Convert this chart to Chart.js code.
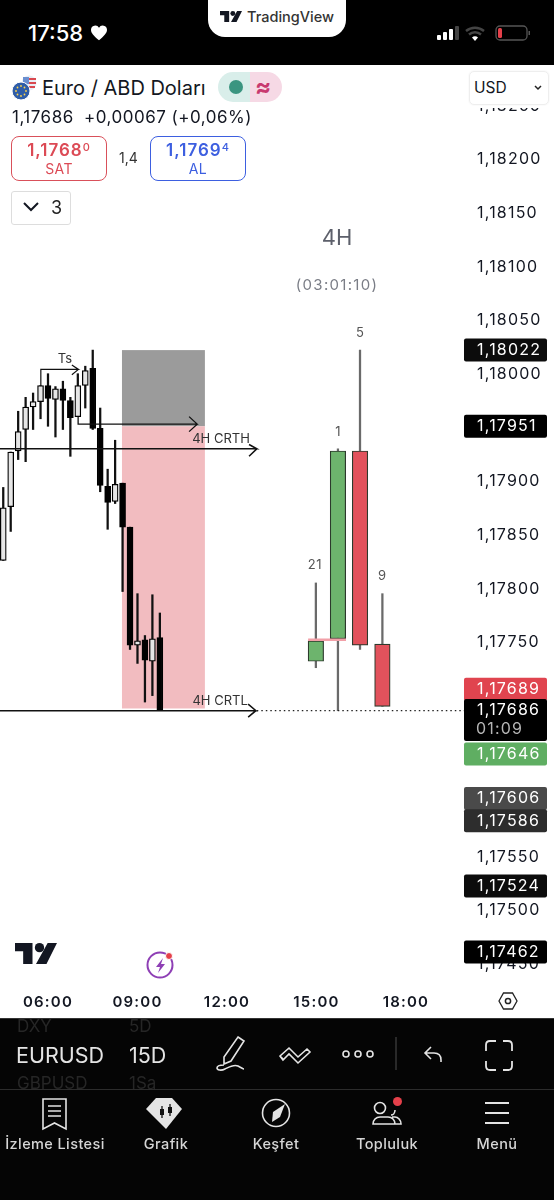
<!DOCTYPE html>
<html>
<head>
<meta charset="utf-8">
<script src="https://cdn.jsdelivr.net/npm/chart.js@4"></script>
<style>
html,body{margin:0;padding:0;background:#000;width:554px;height:1200px;overflow:hidden;font-family:Inter,sans-serif}
.abs{position:absolute;white-space:nowrap}
#panel{left:0;top:65px;width:554px;height:953px;background:#fff}
#cv{position:absolute;left:0;top:65px}
#headbg{left:0;top:65px;width:554px;height:43px;background:#fff}
.btn{box-sizing:border-box;text-align:center;border-radius:8px;border:1.5px solid;background:#fff}
.btn b{display:block;font-size:17px;font-weight:600;line-height:20px;margin-top:3px;letter-spacing:1px}
.btn b sup{font-size:11px;line-height:0;vertical-align:5px;font-weight:500}
.btn span{display:block;font-size:14px;line-height:17px;letter-spacing:.4px}
.nav{top:1135px;color:#d6d6d6;font-size:14.5px;font-weight:500;letter-spacing:.4px;transform:translateX(-50%)}
</style>
</head>
<body>
<div class="abs" id="panel"></div>
<canvas id="cv" width="554" height="953"></canvas>
<div class="abs" id="headbg"></div>

<div class="abs" style="left:28px;top:20px;color:#fff;font-size:22px;font-weight:500">17:58</div>
<svg class="abs" style="left:91px;top:25px" width="16" height="16" viewBox="0 0 24 24"><path fill="#fff" d="M12 23C4 16 0 12 0 7a6.500 6.500 0 0 1 12-3 6.500 6.500 0 0 1 12 3c0 5-4 9-12 16z"/></svg>
<div class="abs" style="left:208px;top:-2px;width:138px;height:39px;background:#fff;border-radius:0 0 17px 17px"></div>
<svg class="abs" style="left:220px;top:11px" width="22" height="11" viewBox="0 0 36 18"><path fill="#131722" d="M0 0h15v18H7V7H0zM28 0h8l-9 18h-9z"/><circle cx="21" cy="4" r="4" fill="#131722"/></svg>
<div class="abs" style="left:247px;top:8px;color:#333;font-size:14.500px;font-weight:500">TradingView</div>
<svg class="abs" style="left:436px;top:24px" width="100" height="20" viewBox="0 0 100 20">
<rect x="1" y="11" width="4" height="5" rx="1" fill="#fff"/><rect x="7" y="8" width="4" height="8" rx="1" fill="#fff"/><rect x="13" y="5" width="4" height="11" rx="1" fill="#fff"/><rect x="19" y="2" width="4" height="14" rx="1" fill="#444"/>
<path d="M30 7a14 14 0 0 1 18 0M33 10.500a9 9 0 0 1 12 0" stroke="#444" stroke-width="2.400" fill="none"/><path d="M36 13.500a4 4 0 0 1 6 0L39 17z" fill="#fff"/>
<rect x="60" y="2" width="31" height="14" rx="4" stroke="#555" fill="none" stroke-width="1.300"/><rect x="62" y="4" width="4" height="10" rx="1.500" fill="#e5404a"/><rect x="92.500" y="7" width="1.500" height="4" fill="#555"/>
</svg>

<svg class="abs" style="left:11px;top:74px" width="26" height="27" viewBox="0 0 26 27">
<circle cx="18" cy="9" r="7.500" fill="#e8eef5"/><path d="M13 4h12v2H13zM11 8h14v2H11zM13 12h11v2H13z" fill="#d9484f"/><path d="M12 3h6v7h-6z" fill="#6a8fd0"/>
<circle cx="10" cy="17" r="9" fill="#2f5da8" stroke="#fff"/><circle cx="10" cy="12" r=".900" fill="#ffd54a"/><circle cx="10" cy="22" r=".900" fill="#ffd54a"/><circle cx="5" cy="17" r=".900" fill="#ffd54a"/><circle cx="15" cy="17" r=".900" fill="#ffd54a"/><circle cx="6.500" cy="13.500" r=".900" fill="#ffd54a"/><circle cx="13.500" cy="20.500" r=".900" fill="#ffd54a"/><circle cx="13.500" cy="13.500" r=".900" fill="#ffd54a"/><circle cx="6.500" cy="20.500" r=".900" fill="#ffd54a"/></svg>
<div class="abs" style="left:42px;top:74px;color:#131722;font-size:20px;line-height:28px">Euro / ABD Doları</div>
<div class="abs" style="left:218px;top:72px;width:32px;height:30px;background:#d9eeea;border-radius:15px 0 0 15px"></div>
<div class="abs" style="left:250px;top:72px;width:32px;height:30px;background:#f6d9e5;border-radius:0 15px 15px 0"></div>
<div class="abs" style="left:229px;top:80px;width:14px;height:14px;border-radius:50%;background:#3a9580"></div>
<div class="abs" style="left:255px;top:71px;color:#c8396f;font-size:24px;font-weight:700;line-height:32px">≈</div>
<div class="abs" style="left:469px;top:71px;width:78px;height:32px;border:1px solid #eee;border-radius:5px;box-shadow:0 0 2px #eee"></div>
<div class="abs" style="left:474px;top:78px;color:#131722;font-size:15.500px">USD</div>
<svg class="abs" style="left:533px;top:84px" width="10" height="8"><path d="M2 2l3 3 3-3" stroke="#222" stroke-width="1.500" fill="none"/></svg>
<div class="abs" style="left:12px;top:106px;color:#131722;font-size:17px;line-height:22px;letter-spacing:.5px">1,17686 <span style="margin-left:5px">+0,00067 (+0,06%)</span></div>
<div class="abs btn" style="left:11px;top:136px;width:96px;height:45px;border-color:#d9505a;color:#dc4a55"><b>1,1768<sup>0</sup></b><span>SAT</span></div>
<div class="abs" style="left:119px;top:149px;color:#333;font-size:14px">1,4</div>
<div class="abs btn" style="left:150px;top:136px;width:96px;height:45px;border-color:#3d5fe0;color:#3d5fe0"><b>1,1769<sup>4</sup></b><span>AL</span></div>
<div class="abs" style="left:11px;top:191px;width:58px;height:32px;border:1px solid #ddd;border-radius:3px;background:#fff"></div>
<svg class="abs" style="left:22px;top:200px" width="20" height="14"><path d="M2 3l7 7 7-7" stroke="#131722" stroke-width="2" fill="none"/></svg>
<div class="abs" style="left:51px;top:197px;color:#222;font-size:18px">3</div>

<svg class="abs" style="left:15px;top:943px" width="42" height="21" viewBox="0 0 36 18"><path fill="#131722" d="M0 0h15v18H7V7H0zM28 0h8l-9 18h-9z"/><circle cx="21" cy="4" r="4" fill="#131722"/></svg>
<svg class="abs" style="left:145px;top:950px" width="32" height="32" viewBox="0 0 32 32"><circle cx="15" cy="15" r="12.500" stroke="#8e3fb5" stroke-width="2" fill="#fff"/><path d="M18 8l-7 9h4l-2 6 7-9h-4z" fill="#8e3fb5"/><circle cx="24" cy="6" r="3.500" fill="#e5404a" stroke="#fff"/></svg>
<svg class="abs" style="left:498px;top:991px" width="20" height="20" viewBox="0 0 20 20"><path d="M1 10l4.500-8h9L19 10l-4.500 8h-9z" fill="none" stroke="#222" stroke-width="1.300"/><circle cx="10" cy="10" r="2.600" fill="none" stroke="#222" stroke-width="1.500"/></svg>

<div class="abs" style="left:0;top:1018px;width:554px;height:182px;background:#050505;border-top:1px solid #333;box-sizing:border-box"></div>
<div class="abs" style="left:17px;top:1016px;color:#262626;font-size:17px">DXY</div>
<div class="abs" style="left:129px;top:1016px;color:#262626;font-size:17px">5D</div>
<div class="abs" style="left:16px;top:1042px;color:#e4e4e4;font-size:21.500px;width:89px;overflow:hidden">EURUSD</div>
<div class="abs" style="left:129px;top:1042px;color:#e4e4e4;font-size:21.500px">15D</div>
<div class="abs" style="left:17px;top:1073px;color:#262626;font-size:17px">GBPUSD</div>
<div class="abs" style="left:129px;top:1073px;color:#262626;font-size:17px">1Sa</div>
<svg class="abs" style="left:200px;top:1035px" width="320" height="42" viewBox="0 0 320 42" fill="none" stroke="#e4e4e4" stroke-width="1.600">
<path d="M38 2l6 4-13 20-7 3 0-7zM24 30c-4 0-7 1-7 3s4 3 8 1 9-5 13-3 5 3 6 3"/>
<path d="M80 21l9-8 9 9 9-8 3 3-12 11-9-9-6 6zM80 21l3 3"/>
<circle cx="146" cy="19" r="3"/><circle cx="158" cy="19" r="3"/><circle cx="170" cy="19" r="3"/>
<path d="M196 2v33" stroke="#333"/>
<path d="M241 27v-2c0-5-3-7-7-7h-9M231 12l-6 6 6 6"/>
<path d="M286 16v-6q0-4 4-4h6M303 6h5q4 0 4 4v6M312 26v5q0 4-4 4h-5M296 35h-6q-4 0-4-4v-5" stroke-width="1.800"/>
</svg>
<div class="abs" style="left:0;top:1089px;width:554px;height:1px;background:#2c2c2c"></div>
<svg class="abs" style="left:0;top:1096px" width="554" height="36" viewBox="0 0 554 36" fill="none" stroke="#e4e4e4" stroke-width="1.600">
<path d="M43 3h23v30l-11.500-6L43 33zM48 10h13M48 15h13M48 20h13"/>
<path d="M156 2h16l10 11-16 20-20-20z" fill="#e4e4e4" stroke="none"/><path d="M162 10v12M170 8v12" stroke="#111" stroke-width="1.300"/><rect x="160" y="13" width="4" height="6" fill="#111" stroke="none"/><rect x="168" y="11" width="4" height="6" fill="#111" stroke="none"/>
<circle cx="276" cy="17" r="13.500"/><path d="M285 8l-5 13-8 5 1-10z" fill="#e4e4e4" stroke="none"/>
<circle cx="380" cy="12" r="5.500"/><path d="M373 28c0-4 3-7 7-7h8c4 0 7 3 7 7H373zM395 14c0 3-2 5-4 5M392 21h3c3 0 6 3 6 7h-6"/>
<path d="M485 7h24M485 17h24M485 27h24" stroke-width="2"/></svg>
<div class="abs" style="left:393px;top:1097px;width:9px;height:9px;border-radius:50%;background:#e5404a"></div>
<div class="abs nav" style="left:55px">İzleme Listesi</div>
<div class="abs nav" style="left:166px">Grafik</div>
<div class="abs nav" style="left:276px">Keşfet</div>
<div class="abs nav" style="left:387px">Topluluk</div>
<div class="abs nav" style="left:497px">Menü</div>

<script>
// 15 min bars, hours of the day
const barTimes = [4.5,4.75,5,5.25,5.5,5.75,6,6.25,6.5,6.75,7,7.25,7.5,7.75,8,8.25,8.5,8.75,9,9.25,9.5,9.75]
const opens  = [1.17825,1.17875,1.17927,1.17947,1.17968,1.17973,1.17988,1.17975,1.17985,1.17974,1.17959,1.17988,1.18004,1.17948,1.17894,1.17880,1.17897,1.17856,1.17746,1.17751,1.17731,1.17753]
const highs  = [1.17893,1.17926,1.17964,1.17977,1.17981,1.17988,1.17999,1.17987,1.17992,1.17977,1.17999,1.18006,1.18021,1.17967,1.17910,1.17937,1.17897,1.17856,1.17794,1.17755,1.17793,1.17776]
const lows   = [1.17825,1.17852,1.17919,1.17917,1.17947,1.17957,1.17950,1.17940,1.17947,1.17922,1.17959,1.17967,1.17947,1.17889,1.17854,1.17878,1.17796,1.17742,1.17729,1.17693,1.17699,1.17685]
const closes = [1.17874,1.17926,1.17945,1.17968,1.17973,1.17988,1.17976,1.17985,1.17974,1.17958,1.17988,1.18002,1.17948,1.17895,1.17879,1.17896,1.17856,1.17746,1.17750,1.17732,1.17752,1.17685]

// the big 4H candles drawn on the right
const bigTimes  = [14.98,15.72,16.46,17.21]
const bigOpens  = [1.17731,1.17752,1.17927,1.17747]
const bigHighs  = [1.17804,1.17929,1.18021,1.17794]
const bigLows   = [1.17725,1.17685,1.17742,1.17689]
const bigCloses = [1.17750,1.17927,1.17746,1.17689]

const priceTicks = [1.1825,1.182,1.1815,1.181,1.1805,1.18,1.179,1.1785,1.178,1.1775,1.1755,1.175,1.1745]
const timeTicks = [6,9,12,15,18]

const tagPrices = [1.18022,1.17951,1.17689,1.17686,1.17646,1.17606,1.17586,1.17524,1.17462]
const tagColors = ['#0c0c0c','#000','#e0444f','#000','#5fae62','#4a4a4a','#2d2d2d','#0c0c0c','#000']

// drawn lines: time / price pairs
const crthTimes = [4.39,13.0,12.74,13.0,12.74]
const crthPrices = [1.17929,1.17929,1.17933,1.17929,1.17922]
const crtlTimes = [4.39,12.97,12.71,12.97,12.71]
const crtlPrices = [1.17685,1.17685,1.17691,1.17685,1.17679]
const tsTimes = [5.76,5.76,7.02,6.8,7.02,6.8]
const tsPrices = [1.17988,1.18003,1.18003,1.18007,1.18003,1.17998]
const exitTimes = [7.01,7.01,11.0,10.73,11.0,10.73]
const exitPrices = [1.17959,1.17952,1.17952,1.17959,1.17952,1.17945]
const dotTimes = [13.0,19.95]
const dotPrices = [1.17685,1.17685]
const sweepTimes = [14.72,15.99]
const sweepPrices = [1.17751,1.17751]

const zoneTimes = [8.48,11.26]
const zonePrices = [1.18021,1.1795,1.17687]

const notes = [
    {t:'Ts', x:6.57, y:1.18013, size:13, color:'#333', gap:0},
    {t:'4H CRTH', x:11.8, y:1.17938, size:13, color:'#333', gap:0},
    {t:'4H CRTL', x:11.77, y:1.17694, size:13, color:'#333', gap:0},
    {t:'4H', x:15.69, y:1.18125, size:22, color:'#5d606b', gap:0},
    {t:'(03:01:10)', x:15.69, y:1.18081, size:15, color:'#7a7d86', gap:1.3},
    {t:'21', x:14.95, y:1.17821, size:13, color:'#555', gap:0.5},
    {t:'1', x:15.72, y:1.17945, size:13, color:'#555', gap:0},
    {t:'5', x:16.46, y:1.18037, size:13, color:'#555', gap:0},
    {t:'9', x:17.2, y:1.1781, size:13, color:'#555', gap:0}
]

const zip = (xs, ys) => xs.map((x, i) => ({x, y: ys[i]}))
const comma = v => v.toFixed(5).replace('.', ',')
const wideText = chart => { chart.ctx.letterSpacing = '1.2px' }

// tick text sits a little under its mark in the original
const tickNudge = 0.000014
// tags are pushed apart so they do not cover each other
const tagNudge = [0,0,-18,0,0.5,2,3,1.5,1]

const zonesPlugin = {
    id: 'zones',
    beforeLayout: wideText,
    beforeDraw: wideText,
    beforeDatasetsDraw(chart) {
        const {ctx, scales: {x, y}} = chart
        const x1 = x.getPixelForValue(zoneTimes[0])
        const x2 = x.getPixelForValue(zoneTimes[1])
        const top = y.getPixelForValue(zonePrices[0])
        const mid = y.getPixelForValue(zonePrices[1])
        const bot = y.getPixelForValue(zonePrices[2])
        ctx.save()
        ctx.fillStyle = '#9b9b9b'
        ctx.fillRect(x1, top, x2 - x1, mid - top)
        ctx.fillStyle = '#f2bcc0'
        ctx.fillRect(x1, mid, x2 - x1, bot - mid)
        ctx.restore()
    }
}

const tagsPlugin = {
    id: 'tags',
    afterDraw(chart) {
        const {ctx, scales: {y}} = chart
        ctx.save()
        // notes
        notes.forEach(n => {
            ctx.font = `${n.size}px Inter`
            ctx.letterSpacing = n.gap + 'px'
            ctx.fillStyle = n.color
            ctx.textAlign = 'center'
            ctx.textBaseline = 'middle'
            ctx.fillText(n.t, chart.scales.x.getPixelForValue(n.x), y.getPixelForValue(n.y))
        })
        // price tags on the axis
        ctx.letterSpacing = '1.2px'
        tagPrices.forEach((p, i) => {
            const cy = y.getPixelForValue(p) + 1 + tagNudge[i]
            const h = i === 3 ? 42 : 23
            const top = cy - 11.5
            ctx.fillStyle = tagColors[i]
            ctx.beginPath()
            ctx.roundRect(464, top, 83, h, 2)
            ctx.fill()
            ctx.font = '16px Inter'
            ctx.fillStyle = '#fff'
            ctx.textAlign = 'left'
            ctx.textBaseline = 'middle'
            ctx.fillText(comma(p), 477, cy)
            if (i === 3) {
                ctx.fillStyle = '#b5b5b5'
                ctx.fillText('01:09', 476, cy + 19)
            }
        })
        ctx.restore()
    }
}

const line = (times, prices, color, width, dash) => ({
    type: 'line',
    data: zip(times, prices),
    borderColor: color,
    borderWidth: width,
    borderDash: dash || [],
    pointRadius: 0,
    tension: 0,
    order: 1
})

const bar = (times, lo, hi, fill, stroke, thick, border, order) => ({
    type: 'bar',
    grouped: false,
    data: times.map((t, i) => ({x: t, y: [lo[i], hi[i]]})),
    backgroundColor: fill,
    borderColor: stroke,
    borderWidth: border,
    borderSkipped: false,
    barThickness: thick,
    order
})

const isUp = closes.map((c, i) => c >= opens[i])
const bigUp = bigCloses.map((c, i) => c >= bigOpens[i])

new Chart(document.getElementById('cv').getContext('2d'), {
    type: 'bar',
    data: {
        datasets: [
            line(crthTimes, crthPrices, '#111', 1.5),
            line(crtlTimes, crtlPrices, '#111', 1.5),
            line(tsTimes, tsPrices, '#111', 1.2),
            line(exitTimes, exitPrices, '#111', 1.3),
            line(dotTimes, dotPrices, '#222', 1.2, [1.5, 3]),
            line(sweepTimes, sweepPrices, '#f2a0a8', 2.5),
            bar(barTimes, opens, closes, isUp.map(u => u ? '#e6e6e6' : '#000'), '#000', 6, 1.3, 3),
            bar(barTimes, lows, highs, '#111', '#111', 1.6, 0, 4),
            bar(bigTimes, bigOpens, bigCloses, bigUp.map(u => u ? '#6db46d' : '#e2525c'), '#2c3a2c', 15.5, 1.2, 5),
            bar(bigTimes, bigLows, bigHighs, '#6a6a6a', '#6a6a6a', 1.6, 0, 6)
        ]
    },
    options: {
        responsive: false,
        animation: false,
        events: [],
        layout: {padding: 0},
        plugins: {legend: {display: false}, tooltip: {enabled: false}},
        scales: {
            x: {
                type: 'linear',
                offset: false,
                min: 4.391,
                max: 19.946,
                grid: {display: false, drawTicks: false},
                border: {display: false},
                afterFit: a => { a.height = 33; a.paddingLeft = 0; a.paddingRight = 0 },
                afterBuildTicks: a => { a.ticks = timeTicks.map(value => ({value})) },
                ticks: {
                    autoSkip: false,
                    maxRotation: 0,
                    padding: 8,
                    color: '#131722',
                    font: {family: 'Inter', size: 15, weight: '600'},
                    callback: v => String(v).padStart(2, '0') + ':00'
                }
            },
            y: {
                position: 'right',
                min: 1.174293,
                max: 1.182867,
                grid: {display: false, drawTicks: false},
                border: {display: false},
                afterFit: a => { a.width = 90; a.paddingTop = 0; a.paddingBottom = 0 },
                afterBuildTicks: a => { a.ticks = priceTicks.map(v => ({value: v - tickNudge})) },
                ticks: {
                    autoSkip: false,
                    padding: 13,
                    color: '#131722',
                    font: {family: 'Inter', size: 16},
                    callback: v => comma(v + tickNudge)
                }
            }
        }
    },
    plugins: [zonesPlugin, tagsPlugin]
})
</script>
</body>
</html>
